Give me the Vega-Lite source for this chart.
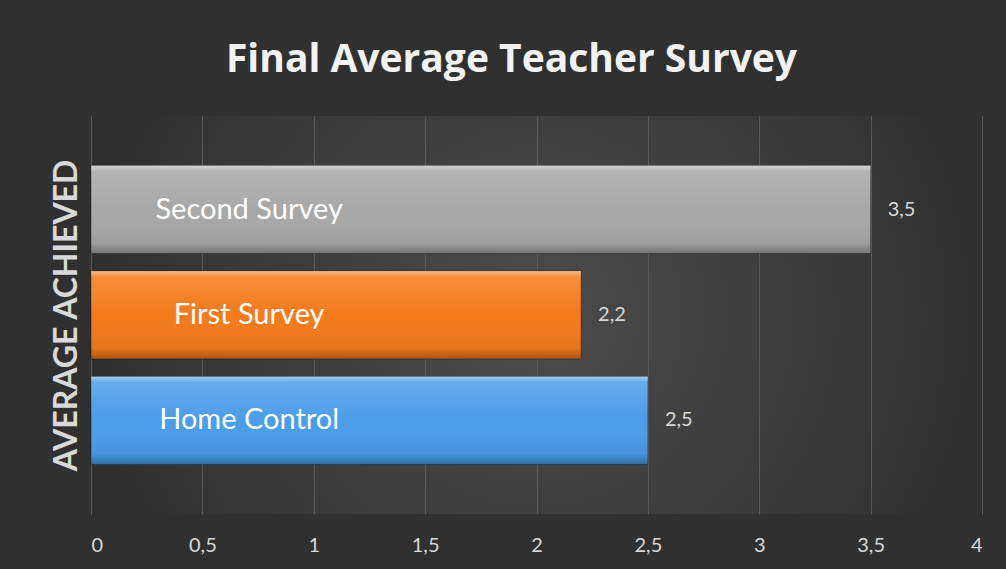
{
  "$schema": "https://vega.github.io/schema/vega-lite/v6.json",
  "width": 891,
  "height": 398,
  "autosize": {"type": "none"},
  "padding": {"left": 91, "top": 116, "right": 24, "bottom": 55},
  "background": "#303030",
  "view": {
    "stroke": null,
    "fill": {
      "gradient": "radial",
      "x1": 0.5, "y1": 0.5, "r1": 0,
      "x2": 0.5, "y2": 0.5, "r2": 0.5,
      "stops": [
        {"offset": 0, "color": "#4c4c4c"},
        {"offset": 1, "color": "#303030"}
      ]
    }
  },
  "title": {
    "text": "Final Average Teacher Survey",
    "font": "Open Sans",
    "fontSize": 39,
    "fontWeight": "bold",
    "color": "#f2f2f2",
    "anchor": "middle",
    "offset": 36,
    "dx": -25
  },
  "config": {
    "locale": {"number": {"decimal": ",", "thousands": ".", "grouping": [3], "currency": ["", " €"]}}
  },
  "data": {
    "values": [
      {"survey": "Second Survey", "value": 3.5},
      {"survey": "First Survey", "value": 2.2},
      {"survey": "Home Control", "value": 2.5}
    ]
  },
  "encoding": {
    "y": {
      "field": "survey",
      "type": "nominal",
      "sort": ["Second Survey", "First Survey", "Home Control"],
      "scale": {"paddingInner": 0.166, "paddingOuter": 0.47},
      "axis": {
        "labels": false,
        "ticks": false,
        "domain": false,
        "grid": false,
        "title": "AVERAGE ACHIEVED",
        "titleFont": "Lato",
        "titleFontSize": 32,
        "titleFontWeight": "bold",
        "titleColor": "#d9d9d9",
        "titlePadding": 8
      }
    }
  },
  "layer": [
    {
      "mark": {"type": "bar", "stroke": "rgba(0,0,0,0.35)", "strokeWidth": 1},
      "encoding": {
        "x": {
          "field": "value",
          "type": "quantitative",
          "scale": {"domain": [0, 4], "nice": false},
          "axis": {
            "values": [0, 0.5, 1, 1.5, 2, 2.5, 3, 3.5, 4],
            "format": "~g",
            "title": null,
            "domain": false,
            "ticks": false,
            "grid": true,
            "gridColor": "#5a5a5a",
            "gridWidth": 1,
            "labelFont": "Lato",
            "labelFontSize": 20,
            "labelColor": "#d9d9d9",
            "labelPadding": 21
          }
        },
        "color": {
          "field": "survey",
          "type": "nominal",
          "scale": {
            "domain": ["Second Survey", "First Survey", "Home Control"],
            "range": ["#a8a8a8", "#f47a1a", "#4a9de8"]
          },
          "legend": null
        }
      }
    },
    {
      "mark": {
        "type": "bar",
        "fill": {
          "gradient": "linear",
          "x1": 0, "y1": 0, "x2": 0, "y2": 1,
          "stops": [
            {"offset": 0, "color": "rgba(255,255,255,0.5)"},
            {"offset": 0.07, "color": "rgba(255,255,255,0.15)"},
            {"offset": 0.5, "color": "rgba(255,255,255,0)"},
            {"offset": 0.88, "color": "rgba(0,0,0,0.06)"},
            {"offset": 1, "color": "rgba(0,0,0,0.3)"}
          ]
        }
      },
      "encoding": {
        "x": {"field": "value", "type": "quantitative"}
      }
    },
    {
      "mark": {"type": "text", "font": "Lato", "fontSize": 29, "color": "#ffffff", "align": "center", "baseline": "middle"},
      "encoding": {
        "x": {"datum": 0.71},
        "text": {"field": "survey"}
      }
    },
    {
      "mark": {"type": "text", "font": "Lato", "fontSize": 20, "color": "#d9d9d9", "align": "left", "baseline": "middle", "dx": 17},
      "encoding": {
        "x": {"field": "value", "type": "quantitative"},
        "text": {"field": "value", "type": "quantitative", "format": "~g"}
      }
    }
  ]
}
